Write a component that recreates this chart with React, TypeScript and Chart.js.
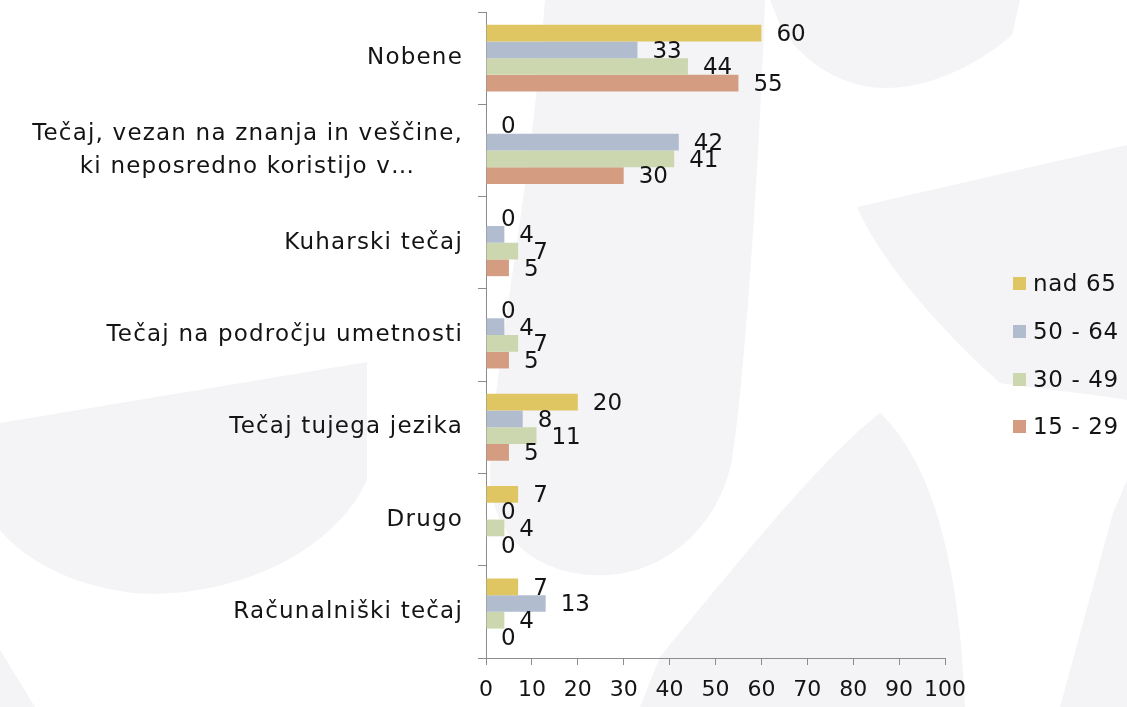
import React, { useEffect, useRef } from "react";
import { Chart, registerables } from "chart.js";

Chart.register(...registerables);

const categories: (string | string[])[] = [
  "Nobene",
  ["Tečaj, vezan na znanja in veščine,", "ki neposredno koristijo v…"],
  "Kuharski tečaj",
  "Tečaj na področju umetnosti",
  "Tečaj tujega jezika",
  "Drugo",
  "Računalniški tečaj",
];

const seriesNames = ["nad 65", "50 - 64", "30 - 49", "15 - 29"];
const nad65 = [60, 0, 0, 0, 20, 7, 7];
const age50to64 = [33, 42, 4, 4, 8, 0, 13];
const age30to49 = [44, 41, 7, 7, 11, 4, 4];
const age15to29 = [55, 30, 5, 5, 5, 0, 0];
const seriesValues = [nad65, age50to64, age30to49, age15to29];
const seriesColors = ["#E0C662", "#B1BDCE", "#CCD7AF", "#D49C81"];

const xMin = 0;
const xMax = 100;
const xStep = 10;

const FONT = '"DejaVu Sans", sans-serif';
const FS = 23;
const TEXT = "#141414";
const AXIS = "#8c8c8c";
const SHAPE = "#f4f4f7";

const bgPlugin = {
  id: "bgShapes",
  beforeDraw(chart: any) {
    const c = chart.ctx as CanvasRenderingContext2D;
    c.save();
    c.fillStyle = "#ffffff";
    c.fillRect(0, 0, chart.width, chart.height);
    c.fillStyle = SHAPE;
    // top blade
    c.beginPath();
    c.moveTo(770, 0);
    c.lineTo(1020, 0);
    c.lineTo(1012, 35);
    c.bezierCurveTo(960, 80, 900, 95, 860, 85);
    c.bezierCurveTo(820, 75, 795, 50, 780, 25);
    c.closePath();
    c.fill();
    // centre tall blade
    c.beginPath();
    c.moveTo(545, 0);
    c.lineTo(765, 0);
    c.bezierCurveTo(760, 150, 745, 380, 732, 460);
    c.bezierCurveTo(715, 540, 650, 580, 590, 575);
    c.bezierCurveTo(520, 570, 488, 520, 490, 470);
    c.bezierCurveTo(495, 350, 530, 200, 545, 0);
    c.closePath();
    c.fill();
    // right middle band
    c.beginPath();
    c.moveTo(857, 207);
    c.lineTo(1127, 145);
    c.lineTo(1127, 400);
    c.bezierCurveTo(1080, 392, 1030, 388, 1000, 383);
    c.bezierCurveTo(940, 330, 880, 260, 857, 207);
    c.closePath();
    c.fill();
    // lower-left blade
    c.beginPath();
    c.moveTo(0, 423);
    c.lineTo(367, 362);
    c.lineTo(367, 480);
    c.bezierCurveTo(330, 560, 220, 600, 133, 593);
    c.bezierCurveTo(70, 585, 25, 560, 0, 530);
    c.closePath();
    c.fill();
    // bottom-left corner
    c.beginPath();
    c.moveTo(0, 650);
    c.lineTo(35, 707);
    c.lineTo(0, 707);
    c.closePath();
    c.fill();
    // bottom centre-right peak
    c.beginPath();
    c.moveTo(640, 707);
    c.lineTo(660, 657);
    c.bezierCurveTo(740, 560, 820, 460, 880, 413);
    c.bezierCurveTo(930, 460, 960, 560, 965, 707);
    c.closePath();
    c.fill();
    // bottom-right
    c.beginPath();
    c.moveTo(1127, 480);
    c.lineTo(1113, 513);
    c.lineTo(1060, 707);
    c.lineTo(1127, 707);
    c.closePath();
    c.fill();
    c.restore();
  },
};

const categoryLabelPlugin = {
  id: "categoryLabels",
  afterDraw(chart: any) {
    const c = chart.ctx as any;
    const yScale = chart.scales.y;
    c.save();
    c.font = `${FS}px ${FONT}`;
    c.letterSpacing = "1.2px";
    c.fillStyle = TEXT;
    c.textBaseline = "middle";
    c.textAlign = "center";
    const right = yScale.right - 23;
    const lh = 33;
    categories.forEach((cat, i) => {
      const lines = Array.isArray(cat) ? cat : [cat];
      const cy = yScale.getPixelForValue(i);
      const maxW = Math.max(...lines.map((l) => c.measureText(l).width));
      lines.forEach((l, k) => {
        const ly = cy + (k - (lines.length - 1) / 2) * lh;
        c.fillText(l, right - maxW / 2, ly);
      });
    });
    c.restore();
  },
};

const valueLabelPlugin = {
  id: "valueLabels",
  afterDatasetsDraw(chart: any) {
    const c = chart.ctx as CanvasRenderingContext2D;
    c.save();
    c.font = `${FS}px ${FONT}`;
    c.fillStyle = TEXT;
    c.textBaseline = "middle";
    c.textAlign = "left";
    chart.data.datasets.forEach((ds: any, di: number) => {
      const meta = chart.getDatasetMeta(di);
      meta.data.forEach((el: any, i: number) => {
        c.fillText(String(ds.data[i]), el.x + 15, el.y + 2);
      });
    });
    c.restore();
  },
};

export default function App() {
  const canvasRef = useRef<HTMLCanvasElement | null>(null);

  useEffect(() => {
    if (!canvasRef.current) return;
    const chart = new Chart(canvasRef.current, {
      type: "bar",
      data: {
        labels: categories as any,
        datasets: seriesNames.map((name, i) => ({
          label: name,
          data: seriesValues[i],
          backgroundColor: seriesColors[i],
          borderWidth: 0,
          categoryPercentage: 0.725,
          barPercentage: 1,
        })),
      },
      options: {
        indexAxis: "y",
        animation: false,
        responsive: true,
        maintainAspectRatio: false,
        layout: { padding: { top: 12, right: 182, left: 0, bottom: 0 } },
        plugins: {
          legend: { display: false },
          tooltip: { enabled: false },
          title: { display: false },
        },
        scales: {
          x: {
            type: "linear",
            min: xMin,
            max: xMax,
            ticks: {
              stepSize: xStep,
              color: TEXT,
              font: { family: FONT, size: FS - 1 },
              padding: 12,
              maxRotation: 0,
            },
            grid: {
              drawOnChartArea: false,
              drawTicks: true,
              tickLength: 7,
              color: AXIS,
            },
            border: { display: true, color: AXIS, width: 1 },
            afterFit: (scale: any) => {
              scale.height = 49;
            },
          },
          y: {
            type: "category",
            ticks: { display: false },
            grid: {
              drawOnChartArea: false,
              drawTicks: true,
              tickLength: 8,
              color: AXIS,
              offset: true,
            },
            border: { display: true, color: AXIS, width: 1 },
            afterFit: (scale: any) => {
              scale.width = 486;
            },
          },
        },
      },
      plugins: [bgPlugin, valueLabelPlugin, categoryLabelPlugin],
    });
    return () => chart.destroy();
  }, []);

  const legendTops = [283, 331, 379, 426];

  return (
    <div
      style={{
        position: "fixed",
        left: 0,
        top: 0,
        width: 1127,
        height: 707,
        background: "#ffffff",
        overflow: "hidden",
      }}
    >
      <canvas ref={canvasRef} />
      {seriesNames.map((name, i) => (
        <div
          key={name}
          style={{
            position: "absolute",
            left: 1013,
            top: legendTops[i] - 14,
            height: 28,
            display: "flex",
            alignItems: "center",
            fontFamily: FONT,
            fontSize: FS,
            letterSpacing: "0.6px",
            color: TEXT,
            whiteSpace: "nowrap",
          }}
        >
          <span
            style={{
              display: "inline-block",
              width: 13,
              height: 13,
              background: seriesColors[i],
              marginRight: 7,
            }}
          />
          <span>{name}</span>
        </div>
      ))}
    </div>
  );
}
